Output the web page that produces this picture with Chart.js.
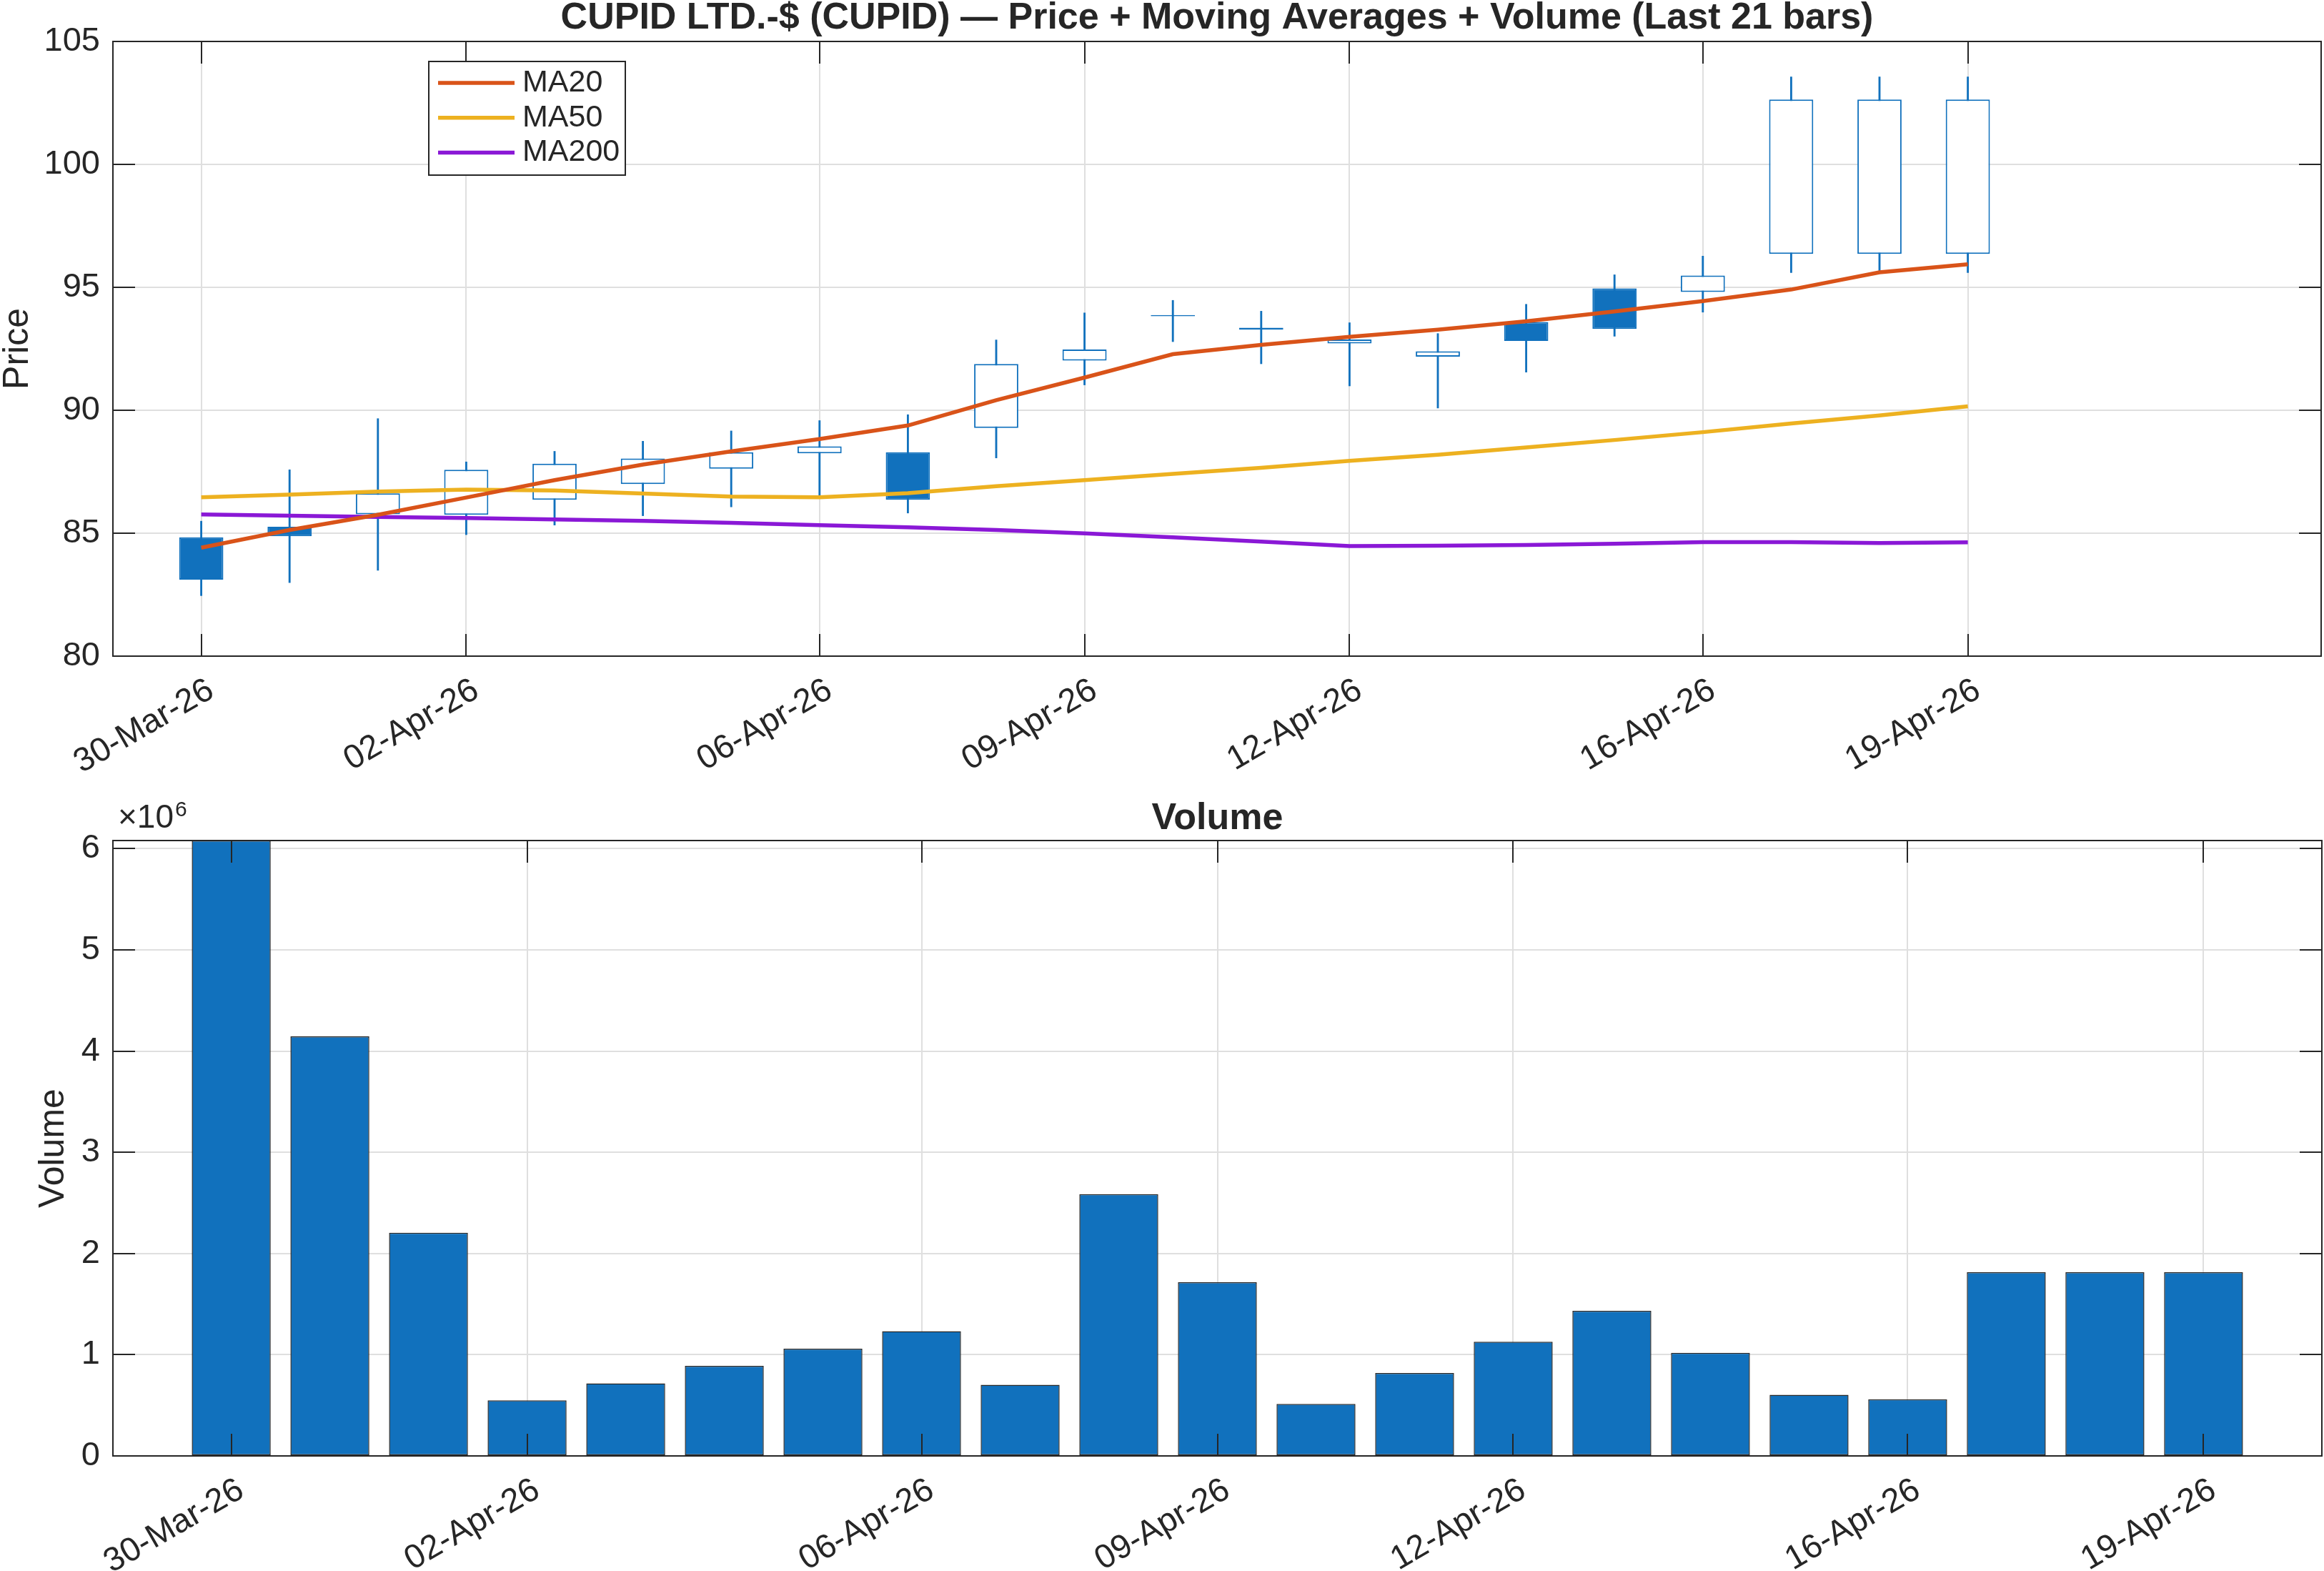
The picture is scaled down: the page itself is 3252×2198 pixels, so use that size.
<!DOCTYPE html>
<html>
<head>
<meta charset="utf-8">
<title>CUPID - Price + MAs + Volume</title>
<script src="https://cdn.jsdelivr.net/npm/chart.js@4/dist/chart.umd.min.js"></script>
<style>
  html, body { margin: 0; padding: 0; background: #fff; }
  #wrap { position: relative; width: 3252px; height: 2198px; }
  #price { position: absolute; left: 0; top: 0; }
  #vol { position: absolute; left: 0; top: 1080px; }
</style>
</head>
<body>
<div id="wrap">
  <canvas id="price" width="3252" height="1080"></canvas>
  <canvas id="vol" width="3252" height="1118"></canvas>
</div>
<script>
//DADOS:
const dates = ['30-Mar-26', '31-Mar-26', '01-Apr-26', '02-Apr-26', '03-Apr-26', '04-Apr-26', '05-Apr-26',
  '06-Apr-26', '07-Apr-26', '08-Apr-26', '09-Apr-26', '10-Apr-26', '11-Apr-26', '12-Apr-26',
  '13-Apr-26', '14-Apr-26', '15-Apr-26', '16-Apr-26', '17-Apr-26', '18-Apr-26', '19-Apr-26']
const openP  = [84.83, 85.26, 85.77, 85.75, 86.36, 87.00, 87.62, 88.25, 88.29, 89.28, 92.02,
  93.87, 93.36, 92.72, 92.18, 93.59, 94.96, 94.81, 96.36, 96.36, 96.36]
const highP  = [85.49, 87.58, 89.66, 87.90, 88.33, 88.74, 89.16, 89.58, 89.82, 92.86, 93.96,
  94.47, 94.03, 93.56, 93.12, 94.31, 95.51, 96.27, 103.56, 103.56, 103.56]
const lowP   = [82.46, 82.99, 83.49, 84.94, 85.33, 85.71, 86.07, 86.49, 85.82, 88.06, 91.03,
  92.79, 91.89, 90.99, 90.09, 91.55, 93.01, 93.99, 95.60, 95.60, 95.60]
const closeP = [83.11, 84.88, 86.62, 87.58, 87.83, 88.04, 88.29, 88.53, 86.36, 91.88, 92.47,
  93.82, 93.28, 92.88, 92.40, 92.82, 93.31, 95.48, 102.64, 102.64, 102.64]
const ma20  = [84.41, 85.13, 85.75, 86.45, 87.16, 87.79, 88.33, 88.83, 89.38, 90.41, 91.33,
  92.28, 92.66, 92.99, 93.28, 93.62, 94.02, 94.44, 94.91, 95.61, 95.94]
const ma50  = [86.46, 86.57, 86.69, 86.77, 86.74, 86.61, 86.49, 86.46, 86.63, 86.91, 87.16,
  87.41, 87.66, 87.94, 88.19, 88.49, 88.79, 89.11, 89.46, 89.79, 90.16]
const ma200 = [85.76, 85.71, 85.66, 85.62, 85.56, 85.50, 85.42, 85.33, 85.24, 85.13, 84.99,
  84.83, 84.66, 84.48, 84.49, 84.52, 84.57, 84.64, 84.64, 84.60, 84.63]
const volume = [6080000, 4145000, 2205000, 549000, 717000, 890000, 1059000, 1232000, 702000, 2587000,
  1716000, 514000, 820000, 1128000, 1434000, 1019000, 603000, 559000, 1815000, 1815000, 1815000]

//TICKS:
const tickDates = ['30-Mar-26', '02-Apr-26', '06-Apr-26', '09-Apr-26', '12-Apr-26', '16-Apr-26', '19-Apr-26']
const priceTicks = [80, 85, 90, 95, 100, 105]
const volTicks = [0, 1, 2, 3, 4, 5, 6]   // x 10^6

//ESTILO:
const blue = '#1171BD'
const ink = '#262626'
const gridColor = '#DFDFDF'
const fontFam = "'Liberation Sans', Arial, Helvetica, sans-serif"
const tickIdx = tickDates.map(d => dates.indexOf(d))

Chart.defaults.font.family = fontFam
Chart.defaults.color = ink
Chart.defaults.animation = false

// caixa do eixo + ticks para dentro (estilo MATLAB)
const frame = {
  id: 'frame',
  afterDatasetsDraw(chart) {
    const { ctx, chartArea: a, scales } = chart
    const len = 31
    ctx.save()
    ctx.strokeStyle = ink
    ctx.lineWidth = 2
    ctx.beginPath()
    for (const t of scales.x.ticks) {
      const px = Math.round(scales.x.getPixelForValue(t.value))
      ctx.moveTo(px, a.bottom); ctx.lineTo(px, a.bottom - len)
      ctx.moveTo(px, a.top); ctx.lineTo(px, a.top + len)
    }
    for (const t of scales.y.ticks) {
      const py = Math.round(scales.y.getPixelForValue(t.value))
      ctx.moveTo(a.left, py); ctx.lineTo(a.left + len, py)
      ctx.moveTo(a.right, py); ctx.lineTo(a.right - len, py)
    }
    ctx.stroke()
    ctx.strokeRect(a.left, a.top, a.right - a.left, a.bottom - a.top)
    ctx.restore()
  }
}

// legenda dentro do eixo
const maLegend = {
  id: 'maLegend',
  afterDraw(chart) {
    const { ctx, chartArea: a } = chart
    const lines = chart.data.datasets.filter(ds => ds.type === 'line')
    const x0 = a.left + 442, y0 = a.top + 28, w = 275, h = 159
    ctx.save()
    ctx.fillStyle = '#fff'
    ctx.fillRect(x0, y0, w, h)
    ctx.strokeStyle = ink
    ctx.lineWidth = 2
    ctx.strokeRect(x0, y0, w, h)
    ctx.font = '43px ' + fontFam
    ctx.textBaseline = 'middle'
    lines.forEach((ds, i) => {
      const y = y0 + 30 + i * 48.8
      ctx.strokeStyle = ds.borderColor
      ctx.lineWidth = ds.borderWidth
      ctx.beginPath()
      ctx.moveTo(x0 + 13, y); ctx.lineTo(x0 + 120, y)
      ctx.stroke()
      ctx.fillStyle = ink
      ctx.fillText(ds.label, x0 + 131, y)
    })
    ctx.restore()
  }
}

// expoente do eixo de volume
const expLabel = {
  id: 'expLabel',
  afterDraw(chart) {
    const { ctx, chartArea: a } = chart
    ctx.save()
    ctx.fillStyle = ink
    ctx.textBaseline = 'alphabetic'
    ctx.font = '46px ' + fontFam
    ctx.fillText('\u00d710', a.left + 7, a.top - 18)
    const w = ctx.measureText('\u00d710').width
    ctx.font = '30px ' + fontFam
    ctx.fillText('6', a.left + 9 + w, a.top - 34)
    ctx.restore()
  }
}

function xAxis(min, max, height) {
  return {
    type: 'linear', min: min, max: max, offset: false,
    afterBuildTicks: s => { s.ticks = tickIdx.map(v => ({ value: v })) },
    afterFit: s => { s.height = height },
    ticks: {
      callback: v => dates[v], autoSkip: false, minRotation: 30, maxRotation: 30,
      padding: 20, labelOffset: 14, font: { size: 47 }, color: ink
    },
    grid: { color: gridColor, lineWidth: 2, drawTicks: false, offset: false },
    border: { display: false }
  }
}

//GRÁFICO DE PREÇO:
new Chart(document.querySelector('#price'), {
  type: 'bar',
  data: {
    datasets: [
      { type: 'line', label: 'MA20', data: ma20.map((v, i) => ({ x: i, y: v })),
        borderColor: '#D95319', borderWidth: 5.5, pointRadius: 0, tension: 0, order: 0 },
      { type: 'line', label: 'MA50', data: ma50.map((v, i) => ({ x: i, y: v })),
        borderColor: '#EDB120', borderWidth: 5.5, pointRadius: 0, tension: 0, order: 0 },
      { type: 'line', label: 'MA200', data: ma200.map((v, i) => ({ x: i, y: v })),
        borderColor: '#8A18D6', borderWidth: 5.5, pointRadius: 0, tension: 0, order: 0 },
      { label: 'body', data: openP.map((o, i) => ({ x: i, y: [o, closeP[i]] })),
        backgroundColor: closeP.map((c, i) => c < openP[i] ? blue : '#fff'),
        borderColor: blue, borderWidth: 2, borderSkipped: false,
        barPercentage: 0.5, categoryPercentage: 1, grouped: false, order: 1 },
      { label: 'wick', data: lowP.map((l, i) => ({ x: i, y: [l, highP[i]] })),
        backgroundColor: blue, borderWidth: 0, barThickness: 2.2, grouped: false, order: 2 }
    ]
  },
  options: {
    responsive: false,
    events: [],
    layout: { padding: { left: 0, right: 4, top: 0, bottom: 0 } },
    plugins: {
      legend: { display: false },
      tooltip: { enabled: false },
      title: {
        display: true, fullSize: false,
        text: 'CUPID LTD.-$ (CUPID) \u2014 Price + Moving Averages + Volume (Last 21 bars)',
        font: { size: 52, weight: 'bold', lineHeight: 1 }, color: ink,
        padding: { top: 0, bottom: 6 }
      }
    },
    scales: {
      x: xAxis(-1, 24, 162),
      y: {
        min: 80, max: 105,
        afterBuildTicks: s => { s.ticks = priceTicks.map(v => ({ value: v })) },
        afterFit: s => { s.width = 158 },
        ticks: { padding: 18, font: { size: 47 }, color: ink },
        grid: { color: gridColor, lineWidth: 2, drawTicks: false },
        border: { display: false },
        title: { display: true, text: 'Price', font: { size: 50, lineHeight: 1 }, padding: 0, color: ink }
      }
    }
  },
  plugins: [frame, maLegend]
})

//GRÁFICO DE VOLUME:
new Chart(document.querySelector('#vol'), {
  type: 'bar',
  data: {
    datasets: [{
      label: 'Volume', data: volume.map((v, i) => ({ x: i, y: v })),
      backgroundColor: blue, borderColor: ink, borderWidth: 1.5, borderSkipped: false,
      barPercentage: 0.8, categoryPercentage: 1
    }]
  },
  options: {
    responsive: false,
    events: [],
    layout: { padding: { left: 0, right: 3, top: 0, bottom: 0 } },
    plugins: {
      legend: { display: false },
      tooltip: { enabled: false },
      title: {
        display: true, fullSize: false, text: 'Volume',
        font: { size: 52, weight: 'bold', lineHeight: 1 }, color: ink,
        padding: { top: 40, bottom: 4 }
      }
    },
    scales: {
      x: xAxis(-1.2, 21.2, 161),
      y: {
        min: 0, max: Math.max(...volume),
        afterBuildTicks: s => { s.ticks = volTicks.map(v => ({ value: v * 1e6 })) },
        afterFit: s => { s.width = 158 },
        ticks: { callback: v => String(v / 1e6), padding: 18, font: { size: 47 }, color: ink },
        grid: { color: gridColor, lineWidth: 2, drawTicks: false },
        border: { display: false },
        title: { display: true, text: 'Volume', font: { size: 50, lineHeight: 1 }, padding: { top: 50 }, color: ink }
      }
    }
  },
  plugins: [frame, expLabel]
})
</script>
</body>
</html>
